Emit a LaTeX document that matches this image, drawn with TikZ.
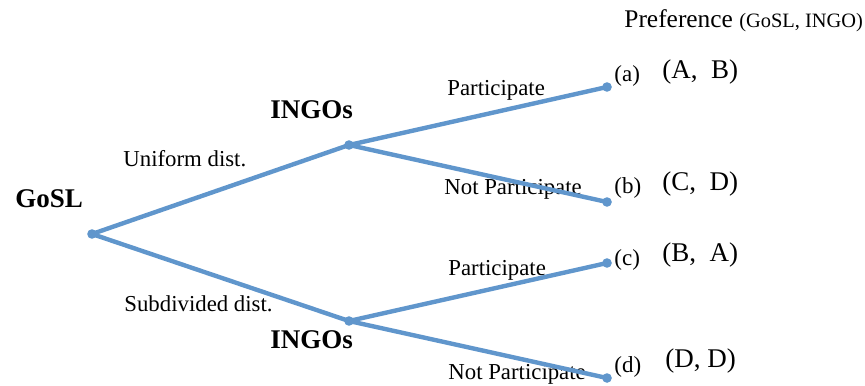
\documentclass[tikz,border=0pt]{standalone}
\usepackage{fontspec}
\setmainfont{Liberation Serif}
\usepackage{xcolor}
\usepackage{tikz}
\usetikzlibrary{positioning}

\definecolor{branch}{RGB}{96,150,204}

\begin{document}
\begin{tikzpicture}[
  x=0.5pt,y=-0.5pt,
  dot/.style={circle,fill=branch,inner sep=0pt,minimum size=4.8pt},
  edge/.style={draw=branch,line width=2.2pt},
  player/.style={anchor=base west,inner sep=0pt,font=\fontsize{13.5}{16}\selectfont\bfseries},
  act/.style={anchor=base west,inner sep=0pt,font=\fontsize{11.4}{14}\selectfont},
  leaf/.style={anchor=base west,inner sep=0pt,font=\fontsize{11.5}{14}\selectfont},
  pay/.style={anchor=base west,inner sep=0pt,font=\fontsize{13.5}{16}\selectfont}
]
\useasboundingbox (0,0) rectangle (865,385);
% decision points
\node[dot] (gosl) at (92,234) {};
\node[dot] (ingo1) at (349,145) {};
\node[dot] (ingo2) at (349,321) {};
\node[dot] (la) at (607,87) {};
\node[dot] (lb) at (607,202) {};
\node[dot] (lc) at (607,263) {};
\node[dot] (ld) at (607,378) {};
% players
\node[player] (tgosl) at (15,207) {GoSL};
\node[player] (tingo1) at (270,119) {INGOs};
\node[player] (tingo2) at (270,348) {INGOs};
% moves
\node[act] (uni) at (123,166) {Uniform dist.};
\node[act] (sub) at (124,311) {Subdivided dist.};
\node[act] (p1) at (447,96) {Participate};
\node[act] (np1) at (444,194) {Not Participate};
\node[act] (p2) at (448,275) {Participate};
\node[act] (np2) at (448,379) {Not Participate};
% outcomes
\node[leaf] (ta) at (614,82) {(a)};
\node[leaf] (tb) at (614,193) {(b)};
\node[leaf] (tc) at (614,265) {(c)};
\node[leaf] (td) at (614,372) {(d)};
\node[pay] (pa) at (662,78) {(A,\ \ B)};
\node[pay] (pb) at (662,190) {(C,\ \ D)};
\node[pay] (pc) at (662,261) {(B,\ \ A)};
\node[pay] (pd) at (665,367) {(D, D)};
\node[anchor=base west,inner sep=0pt] (pref) at (624,28)
  {\fontsize{12.7}{15}\selectfont Preference \fontsize{10.2}{12}\selectfont(GoSL, INGO)};
% branches
\draw[edge] (gosl.center) -- (ingo1.center);
\draw[edge] (gosl.center) -- (ingo2.center);
\draw[edge] (ingo1.center) -- (la.center);
\draw[edge] (ingo1.center) -- (lb.center);
\draw[edge] (ingo2.center) -- (lc.center);
\draw[edge] (ingo2.center) -- (ld.center);
\end{tikzpicture}
\end{document}
